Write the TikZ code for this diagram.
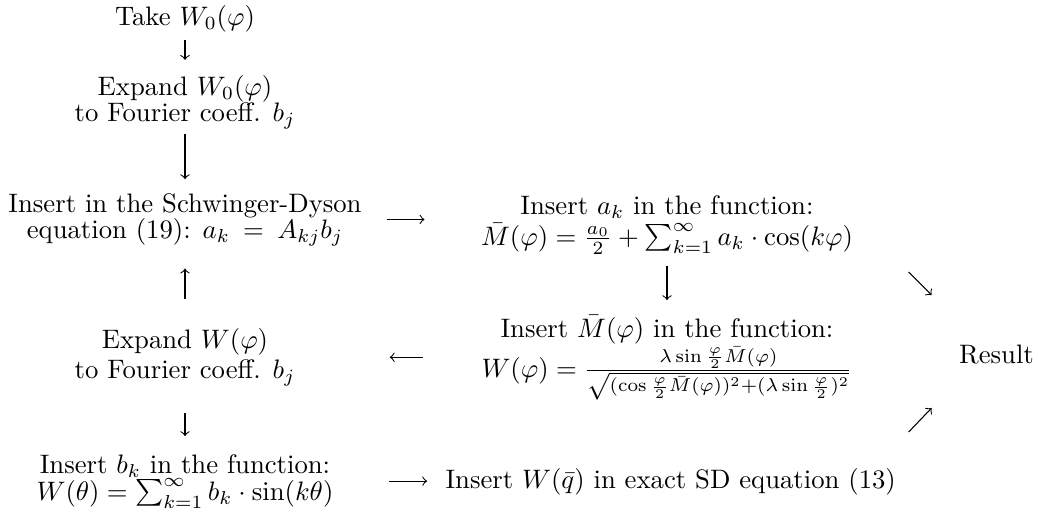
\documentclass[tikz,border=0pt]{standalone}
\usepackage{amsmath}
\begin{document}
\begin{tikzpicture}[x=0.3745pt,y=-0.3745pt,
  lbl/.style={inner sep=0pt,align=center,anchor=base},
  arr/.style={->,line width=0.4pt}]
\useasboundingbox (0,0) rectangle (1038,516);
\node[lbl] (take) at (185,25) {Take $W_0(\varphi)$};
\node[lbl] (exp0) at (185,121) {Expand $W_0(\varphi)$\\[-2.4pt]to Fourier coeff. $b_j$};
\node[lbl] (sd) at (185,238) {Insert in the Schwinger-Dyson\\[-2.3pt]equation (19): $a_k\:=\:A_{kj}b_j$};
\node[lbl] (exp1) at (185,378) {Expand $W(\varphi)$\\[-1.1pt]to Fourier coeff. $b_j$};
\node[lbl] (bk) at (185,500) {Insert $b_k$ in the function:\\[-1.9pt]$W(\theta)=\sum_{k=1}^{\infty} b_k\cdot\sin(k\theta)$};
\node[lbl] (ak) at (667,245) {Insert $a_k$ in the function:\\[-0.4pt]$\bar{M}(\varphi)=\frac{a_0}{2}+\sum_{k=1}^{\infty}a_k\cdot\cos(k\varphi)$};
\node[lbl] (mb) at (667,377) {Insert $\bar{M}(\varphi)$ in the function:\\[0pt]$W(\varphi)=\frac{\lambda\sin\frac{\varphi}{2}\bar{M}(\varphi)}{\sqrt{(\cos\frac{\varphi}{2}\bar{M}(\varphi))^2+(\lambda\sin\frac{\varphi}{2})^2}}$};
\node[lbl] (res) at (996.5,363) {Result};
\node[lbl,anchor=base west] (sdeq) at (445,488) {Insert $W(\bar{q})$ in exact SD equation (13)};
\draw[arr,shorten <=3.1pt,shorten >=5.6pt] (take.south) -- (exp0.north);
\draw[arr,shorten <=1.7pt,shorten >=5.1pt] (exp0.south) -- (sd.north);
\draw[arr,shorten <=10.9pt,shorten >=8.4pt] (exp1.north) -- (sd.south);
\draw[arr,shorten <=9.9pt,shorten >=6.6pt] (exp1.south) -- (bk.north);
\draw[arr,shorten <=4.1pt,shorten >=5.6pt] (ak.south) -- (mb.north);
\draw[arr,shorten <=9.3pt,shorten >=21pt] (sd.east) -- (ak.west |- sd.east);
\draw[arr,shorten <=21.7pt,shorten >=35.2pt] (mb.west |- exp1.east) -- (exp1.east);
\draw[arr,shorten <=20.6pt,shorten >=6.7pt] (bk.east) -- (sdeq.west |- bk.east);
\draw[arr] ([shift={(-50,-82)}]res.west) -- ([shift={(-27,-59)}]res.west);
\draw[arr] ([shift={(-50,78)}]res.west) -- ([shift={(-27,54)}]res.west);
\end{tikzpicture}
\end{document}
